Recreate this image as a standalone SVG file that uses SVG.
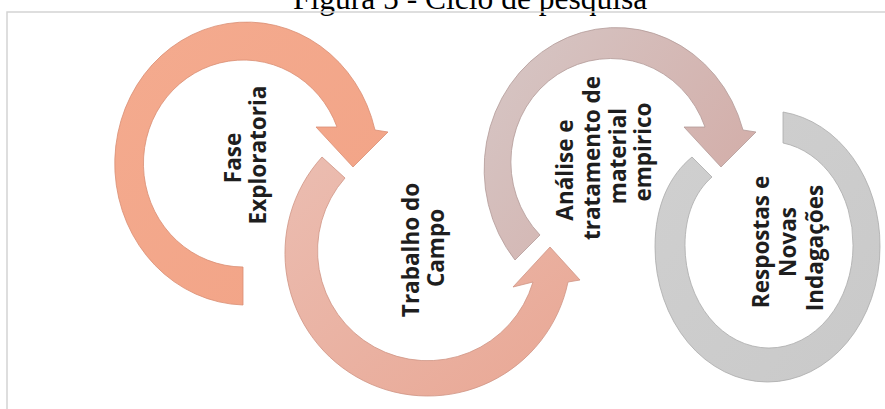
<svg xmlns="http://www.w3.org/2000/svg" width="885" height="409" viewBox="0 0 885 409">
  <defs>
    <linearGradient id="gOrange" x1="0" y1="0" x2="1" y2="1">
      <stop offset="0" stop-color="#F4AB8F"/>
      <stop offset="1" stop-color="#F2A386"/>
    </linearGradient>
    <linearGradient id="gSalmon" x1="0" y1="0" x2="1" y2="1">
      <stop offset="0" stop-color="#EBBDB1"/>
      <stop offset="1" stop-color="#E9A794"/>
    </linearGradient>
    <linearGradient id="gMauve" x1="0" y1="0" x2="1" y2="0.6">
      <stop offset="0" stop-color="#D6C7C6"/>
      <stop offset="1" stop-color="#D3AEA9"/>
    </linearGradient>
    <linearGradient id="gGray" x1="0" y1="0" x2="1" y2="1">
      <stop offset="0" stop-color="#D0D0D0"/>
      <stop offset="1" stop-color="#C9C9C9"/>
    </linearGradient>
  </defs>
  <style>
    .lbl { font-family: "Open Sans", "DejaVu Sans", sans-serif; font-weight: 700; font-size: 22.5px; fill: #1e1e1e; text-anchor: middle; }
    .title { font-family: "Liberation Serif", "Times New Roman", serif; font-size: 31.5px; fill: #000; }
    .frame { fill: none; stroke: #d4d4d4; stroke-width: 1.5; }
    .ring { stroke-width: 0.8; stroke-linejoin: round; }
  </style>
  <rect width="885" height="409" fill="#ffffff"/>
  <text class="title" x="293" y="9">Figura 5 - Ciclo de pesquisa</text>
  <path class="frame" d="M7 409 V12 H885"/>

  <g id="connectors">
    <path id="arrow-fase" class="ring" fill="url(#gOrange)" stroke="#D98E74"
      d="M243 305 A132 141.5 0 1 1 375 130 L388 132 L353 167 L316 127 L337 127 A100 103.5 0 1 0 243 267 Z"/>
    <path id="arrow-campo" class="ring" fill="url(#gSalmon)" stroke="#CF9484"
      d="M322 157 A143 143 0 1 0 568 282 L580 280 L550 247 L513 287 L533 282 A110 110 0 1 1 345 178 Z"/>
    <path id="arrow-analise" class="ring" fill="url(#gMauve)" stroke="#B39B98"
      d="M515 260 A132 141.5 0 1 1 743 130 L756 132 L721 167 L684 127 L705 127 A100 103.5 0 1 0 540 235 Z"/>
    <path id="arrow-respostas" class="ring" fill="url(#gGray)" stroke="#ABABAB"
      d="M692 157 C670 175 655 205 655 247 A112.5 135 0 0 0 767.5 382 A112.5 135 0 0 0 880 247 A112.5 135 0 0 0 783 112 L783 143 A84 102.5 0 0 1 853 245.5 A84 102.5 0 0 1 769 348 A84 102.5 0 0 1 685 245.5 C685 215 695 192 712 177 Z"/>
  </g>

  <g id="node-fase">
    <text class="lbl" transform="translate(241,158) rotate(-90)">Fase</text>
    <text class="lbl" transform="translate(266,155) rotate(-90)">Exploratoria</text>
  </g>
  <g id="node-campo">
    <text class="lbl" transform="translate(419,250) rotate(-90)">Trabalho do</text>
    <text class="lbl" transform="translate(444,248) rotate(-90)">Campo</text>
  </g>
  <g id="node-analise">
    <text class="lbl" transform="translate(573,170) rotate(-90)">Análise e</text>
    <text class="lbl" transform="translate(600,158) rotate(-90)">tratamento de</text>
    <text class="lbl" transform="translate(626,156) rotate(-90)">material</text>
    <text class="lbl" transform="translate(651,152) rotate(-90)">empirico</text>
  </g>
  <g id="node-respostas">
    <text class="lbl" transform="translate(769,242) rotate(-90)">Respostas e</text>
    <text class="lbl" transform="translate(796,242) rotate(-90)">Novas</text>
    <text class="lbl" transform="translate(823,248) rotate(-90)">Indagações</text>
  </g>
</svg>
